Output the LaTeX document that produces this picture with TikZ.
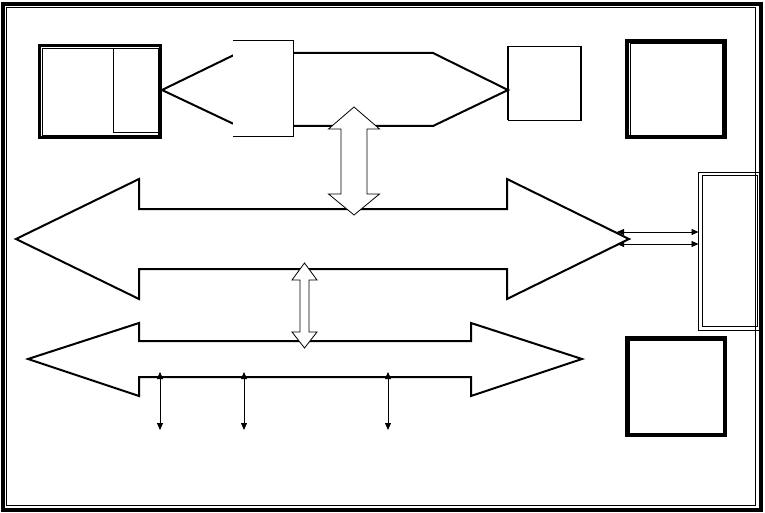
\documentclass[tikz,border=0pt]{standalone}
\usetikzlibrary{arrows.meta}
\begin{document}
\begin{tikzpicture}[x=1pt, y=-1pt, line join=miter, >={Stealth[length=7pt,width=6pt,inset=0pt]}]
	\useasboundingbox (0,0) rectangle (765,513);
	\draw[line width=4] (2.5,4.5) rectangle (760.5,509.5);%khung ngoài
	\draw[line width=1] (6.5,8) rectangle (755.5,505.5);
	\draw[line width=3.5] (39.5,45.5) rectangle (160.5,137.5);%khối trên trái
	\draw[line width=0.8] (42,48.5) rectangle (158,135.5);
	\draw[line width=0.8] (113,48.5)--(113,132)--(158,132);
	\draw[line width=2] (162,90)--(238,53)--(433,53)--(508,90)--(433,126)--(238,126)--cycle;%bus trên
	\fill[white] (233,41) rectangle (293,137);
	\draw[line width=1] (233,41)--(293,41)--(293,137)--(233,137);
	\draw[line width=0.6] (508,46) rectangle (581,120);%khối nhỏ
	\draw[line width=1.5] (508,46)--(508,120) (581,46)--(581,120);
	\draw[line width=4] (627,41) rectangle (725,137);%khối trên phải
	\draw[line width=0.8] (630.5,43.5) rectangle (722,135);
	\draw[line width=0.8] (698.5,172.5) rectangle (760,330);%khối dọc
	\draw[line width=0.8] (702.5,175.5) rectangle (757,326.5);
	\draw[line width=4] (627,338) rectangle (725,435);%khối dưới phải
	\draw[line width=0.8] (629.5,340.5) rectangle (723,433);
	\draw[line width=2, fill=white] (16,239)--(139,179)--(139,209)--(507,209)--(507,179)--(629,239)--(507,299)--(507,269)--(139,269)--(139,299)--cycle;%bus giữa
	\draw[line width=2, fill=white] (28,359)--(139,323)--(139,341)--(471,341)--(471,323)--(582,359)--(471,396)--(471,377)--(139,377)--(139,396)--cycle;%bus dưới
	\draw[line width=0.8, fill=white] (354,107)--(379.5,129)--(367,129)--(367,194)--(379.5,194)--(354,215)--(328.5,194)--(341,194)--(341,129)--(328.5,129)--cycle;%mũi tên rỗng 1
	\draw[line width=0.8, fill=white] (304.5,263)--(317,280)--(309,280)--(309,332)--(317,332)--(304.5,348)--(292,332)--(300,332)--(300,280)--(292,280)--cycle;%mũi tên rỗng 2
	\coordinate (b1) at (617,232);
	\coordinate (k1) at (698.5,232);
	\coordinate (b2) at (617,244);
	\coordinate (k2) at (698.5,244);
	\draw[line width=0.8, <->] (b1)--(k1);
	\draw[line width=0.8, <->] (b2)--(k2);
	\foreach \x [count=\i] in {160,244,388}{
		\coordinate (t\i) at (\x,372);
		\coordinate (d\i) at (\x,430);
		\draw[line width=0.8, <->] (t\i)--(d\i);
	}
\end{tikzpicture}
\end{document}
